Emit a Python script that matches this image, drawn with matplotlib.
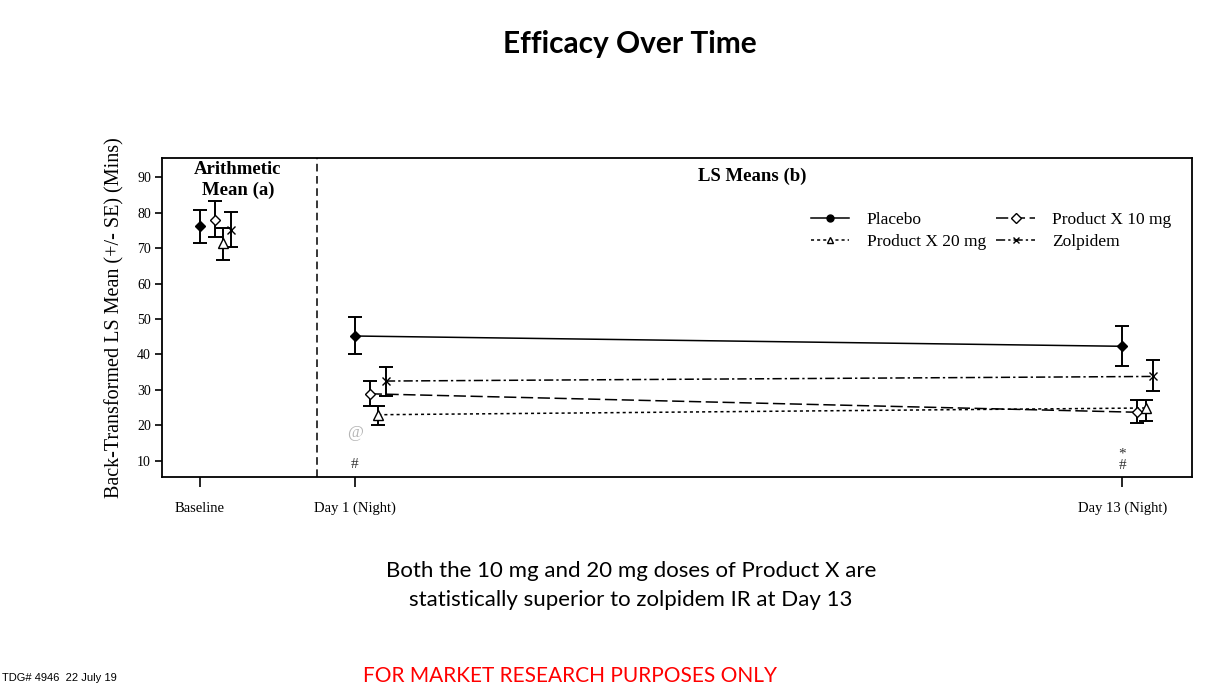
import matplotlib
matplotlib.use("Agg")
import matplotlib.pyplot as plt
from matplotlib.lines import Line2D
from matplotlib import font_manager

# ---- data ----
timepoints = ["Baseline", "Day 1 (Night)", "Day 13 (Night)"]
x_positions = [0.0, 1.0, 5.95]
series = ["Placebo", "Product X 10 mg", "Product X 20 mg", "Zolpidem"]
placebo_mean = [76.2, 45.2, 42.3]
placebo_hi = [80.7, 50.6, 48.1]
placebo_lo = [71.3, 40.2, 36.8]
x10_mean = [77.9, 28.9, 23.7]
x10_hi = [83.4, 32.4, 27.2]
x10_lo = [73.0, 25.4, 20.6]
x20_mean = [71.5, 23.0, 24.9]
x20_hi = [75.6, 25.4, 27.2]
x20_lo = [66.6, 20.1, 21.3]
zol_mean = [75.1, 32.5, 33.8]
zol_hi = [80.1, 36.6, 38.3]
zol_lo = [70.4, 28.3, 29.8]
y_ticks = [10, 20, 30, 40, 50, 60, 70, 80, 90]

serif = ["Liberation Serif", "DejaVu Serif"]
names = {f.name for f in font_manager.fontManager.ttflist}
narrow = ["Liberation Sans Narrow", "Liberation Sans", "DejaVu Sans"] if "Liberation Sans Narrow" in names else ["Liberation Sans", "DejaVu Sans"]

fig = plt.figure(figsize=(12.18, 6.93), dpi=100)
ax = fig.add_axes([0.133, 0.312, 0.9787 - 0.133, 0.772 - 0.312])

offsets = [0.0, 0.095, 0.15, 0.2]
means = [placebo_mean, x10_mean, x20_mean, zol_mean]
his = [placebo_hi, x10_hi, x20_hi, zol_hi]
los = [placebo_lo, x10_lo, x20_lo, zol_lo]
markers = ["D", "D", "^", "x"]
mfcs = ["black", "white", "white", "black"]
msizes = [5, 5.5, 6.5, 6]
linestyles = ["-", (0, (8, 3)), (0, (2, 2)), (0, (6, 2, 1.5, 2))]

for i in range(4):
    xs = [x + offsets[i] for x in x_positions]
    m = means[i]
    yerr = [[m[j] - los[i][j] for j in range(3)], [his[i][j] - m[j] for j in range(3)]]
    ax.errorbar(xs, m, yerr=yerr, fmt="none", ecolor="black", elinewidth=1.4,
                capsize=5, capthick=1.4, zorder=3)
    # connecting line Day 1 -> Day 13 only
    ax.plot(xs[1:], m[1:], color="black", lw=1.1, linestyle=linestyles[i], zorder=2)
    ax.plot(xs, m, linestyle="none", marker=markers[i], ms=msizes[i],
            mfc=mfcs[i], mec="black", mew=1.0, zorder=4)

ax.axvline(0.755, color="black", lw=1.1, linestyle=(0, (5, 3)))

ax.set_xlim(-0.245, 6.4)
ax.set_ylim(5.5, 95.4)
ax.set_yticks(y_ticks)
ax.set_yticklabels([str(t) for t in y_ticks], fontfamily=serif, fontsize=10)
ax.set_xticks(x_positions)
ax.set_xticklabels(timepoints, fontfamily=serif, fontsize=10.5)
ax.tick_params(axis="x", length=7, width=1.2, pad=11)
ax.tick_params(axis="y", length=5, width=1.2, pad=3)
for s in ax.spines.values():
    s.set_linewidth(1.3)

ax.set_ylabel("Back-Transformed LS Mean (+/- SE) (Mins)", fontfamily=serif,
              fontsize=14.5, labelpad=9)

ax.text(0.245, 94.6, "Arithmetic\nMean (a)", ha="center", va="top",
        fontfamily=serif, fontweight="bold", fontsize=13.5, linespacing=1.3)
ax.text(3.56, 90.3, "LS Means (b)", ha="center", va="center",
        fontfamily=serif, fontweight="bold", fontsize=13.5)

# significance symbols
ax.text(x_positions[1], 17.9, "@", ha="center", va="center", color="#b5b5b5",
        fontfamily=serif, fontsize=12.5)
ax.text(x_positions[1], 9.0, "#", ha="center", va="center", color="#333333",
        fontfamily=serif, fontsize=11)
ax.text(x_positions[2], 12.0, "*", ha="center", va="center", color="#333333",
        fontfamily=serif, fontsize=11)
ax.text(x_positions[2], 8.8, "#", ha="center", va="center", color="#333333",
        fontfamily=serif, fontsize=11)

# legend
h_pl = Line2D([], [], color="black", lw=1.1, ls="-", marker="o", ms=5, mfc="black")
h_20 = Line2D([], [], color="black", lw=1.1, ls=(0, (2, 2)), marker="^", ms=5, mfc="white")
h_10 = Line2D([], [], color="black", lw=1.1, ls=(0, (8, 3)), marker="D", ms=5, mfc="white")
h_zo = Line2D([], [], color="black", lw=1.1, ls=(0, (6, 2, 1.5, 2)), marker="x", ms=5)
leg = ax.legend([h_pl, h_20, h_10, h_zo],
                ["Placebo", "Product X 20 mg", "Product X 10 mg", "Zolpidem"],
                ncol=2, loc="upper right", bbox_to_anchor=(0.995, 0.88), frameon=False,
                prop={"family": serif, "size": 12.5}, handlelength=2.2,
                columnspacing=0.6, labelspacing=0.35, handletextpad=1.0)

# figure texts
fig.text(0.517, 0.937, "Efficacy Over Time", ha="center", va="center",
         fontfamily=["Lato", "DejaVu Sans"], fontweight="bold", fontsize=21.5)
fig.text(0.518, 0.155, "Both the 10 mg and 20 mg doses of Product X are\nstatistically superior to zolpidem IR at Day 13",
         ha="center", va="center", fontfamily=["Lato", "DejaVu Sans"], fontsize=16, linespacing=1.55)
fig.text(0.002, 0.022, "TDG# 4946  22 July 19", ha="left", va="center",
         fontfamily=narrow, fontsize=8)
fig.text(0.468, 0.024, "FOR MARKET RESEARCH PURPOSES ONLY", ha="center", va="center",
         fontfamily=["Lato", "DejaVu Sans"], fontsize=15, color="#ff0000")

fig.savefig("out.png", dpi=100)
